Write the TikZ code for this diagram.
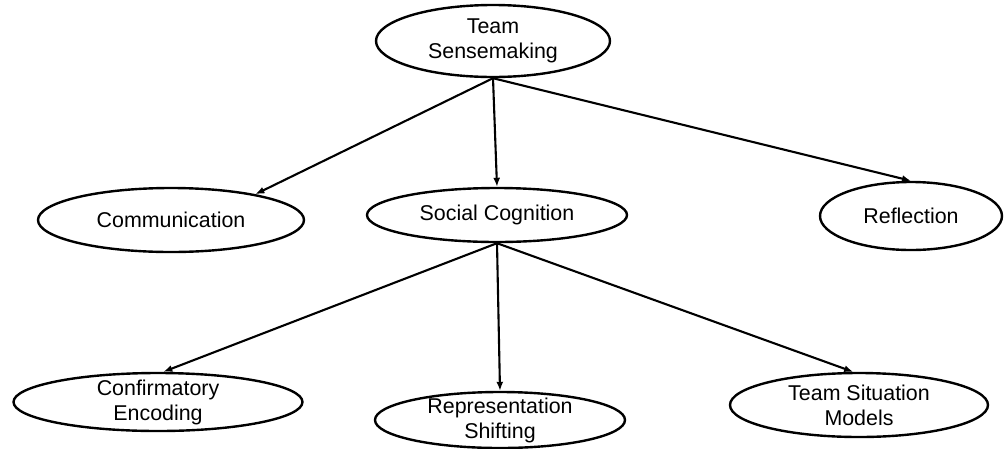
\documentclass[tikz,border=0pt]{standalone}
\usepackage{fontspec}
\setmainfont{Liberation Sans}
\usetikzlibrary{shapes.geometric}
\usetikzlibrary{arrows.meta}

\begin{document}
\begin{tikzpicture}[x=1pt,y=-1pt,
	oval/.style={draw,ellipse,line width=2.4pt,inner sep=0pt,fill=white},
	lbl/.style={align=center,font=\fontsize{21.4}{25}\selectfont,inner sep=0pt},
	link/.style={line width=2.1pt,-{Latex[length=9pt,width=7pt]}}
	]
	\useasboundingbox (0,0) rectangle (1004,448);
	
	\node[oval, minimum width=234pt, minimum height=72pt, label={[lbl]center:Team\\Sensemaking}] (ts) at (493,41) {};
	\node[oval, minimum width=266pt, minimum height=64pt, label={[lbl]center:Communication}] (comm) at (171,220) {};
	\node[oval, minimum width=260pt, minimum height=54pt, label={[lbl]center:Social Cognition}] (soc) at (497,215) {};
	\node[oval, minimum width=182pt, minimum height=68pt, label={[lbl]center:Reflection}] (refl) at (911,216) {};
	
	\node[oval, minimum width=289pt, minimum height=58pt, label={[lbl]center:Confirmatory\\Encoding}] (conf) at (158,402) {};
	\node[oval, minimum width=250pt, minimum height=56pt, label={[lbl]center:Representation\\Shifting}] (rep) at (500,420) {};
	\node[oval, minimum width=258pt, minimum height=64pt, label={[lbl]center:Team Situation\\Models}] (tsm) at (859,405) {};
	
	\draw[link] (ts.south) -- (comm.17);
	\draw[link] (ts.south) -- (soc.north);
	\draw[link] (ts.south) -- (refl.north);
	
	\draw[link] (soc.south) -- (conf.80);
	\draw[link] (soc.south) -- (rep.north);
	\draw[link] (soc.south) -- (tsm.100);
\end{tikzpicture}
\end{document}
